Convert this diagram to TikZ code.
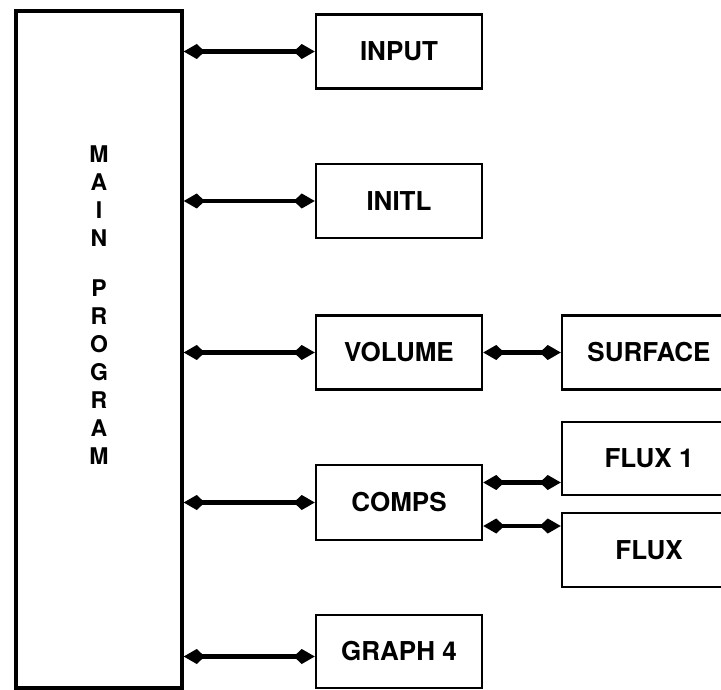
\documentclass[tikz,border=0pt]{standalone}
\usepackage{fontspec}
\setmainfont{TeX Gyre Heros}
\usetikzlibrary{arrows.meta}
\begin{document}
\begin{tikzpicture}[x=1pt,y=-1pt,
  box/.style={draw, line width=2.5pt, minimum width=166pt, minimum height=74pt, inner sep=0pt, font=\fontsize{26}{30}\selectfont\bfseries},
  link/.style={{Kite[length=21pt,width=15pt,inset=8pt]}-{Kite[length=21pt,width=15pt,inset=8pt]}, line width=4.5pt}]
\useasboundingbox (0,0) rectangle (721,690);
\node [draw, line width=3.5pt, minimum width=166pt, minimum height=677pt] (main) at (99,349.5) {};
\node [font=\fontsize{23}{28}\selectfont\bfseries, align=center] (mainlabel) at (99,305) {M\\A\\I\\N\\[22pt]P\\R\\O\\G\\R\\A\\M};
\node [box] (input) at (399,51.5) {INPUT};
\node [box] (initl) at (399,201) {INITL};
\node [box] (volume) at (399,352.5) {VOLUME};
\node [box, minimum height=75pt] (comps) at (399,502.5) {COMPS};
\node [box, minimum height=73pt] (graph) at (399,651.5) {GRAPH 4};
\node [box, minimum width=174pt] (surface) at (649,352.5) {SURFACE};
\node [box, minimum width=174pt, minimum height=73pt] (flux1) at (649,458.5) {FLUX 1};
\node [box, minimum width=174pt] (flux) at (649,550) {FLUX};
\draw [link] (input.west) -- (main.east |- input.west);
\draw [link] (initl.west) -- (main.east |- initl.west);
\draw [link] (volume.west) -- (main.east |- volume.west);
\draw [link] (comps.west) -- (main.east |- comps.west);
\draw [link] ([yshift=-5pt]graph.west) -- ([yshift=-5pt]graph.west -| main.east);
\draw [link] (volume.east) -- (surface.west);
\draw [link] ([yshift=20pt]comps.east) -- ([yshift=20pt]comps.east -| flux1.west);
\draw [link] ([yshift=-23.5pt]comps.east) -- ([yshift=-23.5pt]comps.east -| flux.west);
\end{tikzpicture}
\end{document}
